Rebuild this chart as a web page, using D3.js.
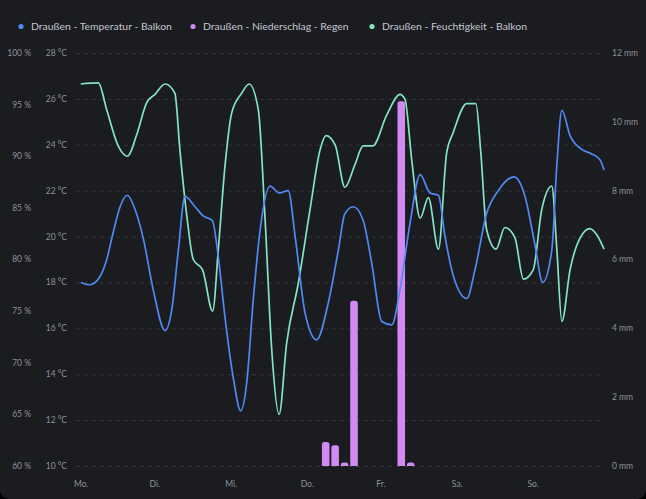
<!DOCTYPE html>
<html><head><meta charset="utf-8">
<script src="https://cdn.jsdelivr.net/npm/d3@7"></script>
<style>
html,body{margin:0;padding:0;background:#000;}
svg{display:block;font-family:Lato,"Noto Sans",sans-serif;}
</style></head>
<body>
<svg id="chart" width="646" height="499"></svg>
<script>
// ---- data ----
const dayLabels = ["Mo.", "Di.", "Mi.", "Do.", "Fr.", "Sa.", "So."];
const legendLabels = ["Draußen - Temperatur - Balkon", "Draußen - Niederschlag - Regen", "Draußen - Feuchtigkeit - Balkon"];
const tempTicks = [10,12,14,16,18,20,22,24,26,28];
const humTicks = [60,65,70,75,80,85,90,95,100];
const rainTicks = [0,2,4,6,8,10,12];

// hours since Monday 00:00
const tempHours = [1.5,4.4,7.4,9.75,11.85,14.0,16.3,18.7,21.4,24.5,28.3,30.4,32.5,34.6,37.8,40.4,43.3,45.2,47.3,50.0,52.3,54.2,56.3,58.4,61.6,64.6,67.4,69.6,72.7,76.4,80.1,83.3,85.4,88.1,91.2,93.9,97.1,100.3,102.9,106.1,109.3,112.4,115.1,117.2,119.8,124.1,126.7,130.4,134.1,139.1,142.6,145.8,148.2,151.1,152.7,154.3,156.9,160.6,163.8,166.4,167.7];
const tempValues = [18.0,17.9,18.2,19.0,20.2,21.3,21.8,21.2,19.9,17.7,15.9,16.8,19.4,21.75,21.3,20.9,20.7,19.1,16.5,13.8,12.4,13.6,17.25,20.2,22.2,21.9,22.0,20.0,16.7,15.5,17.1,19.4,21.0,21.3,20.7,18.85,16.3,16.15,17.7,20.6,22.7,21.9,21.8,20.0,18.3,17.3,18.55,21.0,22.0,22.6,21.75,19.6,18.0,19.4,23.1,25.5,24.4,23.8,23.6,23.35,22.9];

const humHours = [1.5,7.1,9.75,13.4,16.3,19.3,22.45,25.1,28.3,31.4,33.0,35.2,37.25,40.2,43.4,45.2,47.3,49.45,52.6,55.0,57.9,60.0,62.15,64.5,66.9,70.6,74.3,77.5,79.4,82.3,85.4,88.6,91.2,94.2,98.7,102.9,104.5,106.6,109.3,111.9,115.1,117.7,119.8,124.1,127.0,128.5,130.4,133.4,136.2,139.4,142.1,145.2,147.9,151.1,152.7,154.3,156.9,160.1,163.2,165.4,167.7];
const humValues = [97.0,97.1,94.5,91.0,90.0,92.1,95.2,96.0,97.0,96.1,90.6,84.2,80.0,79.0,75.0,81.0,89.0,94.2,96.1,97.0,94.5,84.2,71.3,65.0,71.9,77.7,84.8,90.6,92.0,91.1,87.0,89.2,91.0,91.0,94.0,96.0,95.5,89.7,84.0,86.0,81.0,90.3,92.3,95.1,95.1,90.6,82.9,81.0,83.1,82.1,78.1,79.0,84.8,87.1,81.0,74.0,79.0,82.1,83.0,82.4,81.0];

// 3-hour buckets, start hour since Monday 00:00
const rainHours = [78,81,84,87,102,105];
const rainValues = [0.7,0.6,0.1,4.8,10.6,0.1];

(function(){
// ---- layout ----
const W = 646, H = 499;
const pL = 76, pR = 605, pT = 53, pB = 466;
const colTemp = "#5089f2", colRain = "#d28af3", colHum = "#84e3c3";
const axisCol = "#8d919b";

const svg = d3.select("#chart");
svg.append("rect").attr("x",0).attr("y",-20).attr("width",W).attr("height",H+20).attr("rx",9).attr("fill","#1b1c20");

const x = d3.scaleLinear().domain([0,168]).range([pL,pR]);
const yT = d3.scaleLinear().domain([10,28]).range([pB,pT]);
const yH = d3.scaleLinear().domain([60,100]).range([pB,pT]);
const yR = d3.scaleLinear().domain([0,12]).range([pB,pT]);

// grid
svg.append("g").selectAll("line").data(tempTicks).join("line")
  .attr("x1",pL).attr("x2",pR-2)
  .attr("y1",d=>yT(d)+0.5).attr("y2",d=>yT(d)+0.5)
  .attr("stroke","#34363c").attr("stroke-width",1).attr("stroke-dasharray","4,4");

// axes labels
const fs = 8.5;
svg.append("g").selectAll("text").data(tempTicks).join("text")
  .attr("x",67).attr("y",d=>yT(d)).attr("dy","0.35em").attr("text-anchor","end")
  .attr("font-size",fs).attr("fill",axisCol).text(d=>d+" °C");
svg.append("g").selectAll("text").data(humTicks).join("text")
  .attr("x",31).attr("y",d=>yH(d)).attr("dy","0.35em").attr("text-anchor","end")
  .attr("font-size",fs).attr("fill",axisCol).text(d=>d+" %");
svg.append("g").selectAll("text").data(rainTicks).join("text")
  .attr("x",612).attr("y",d=>yR(d)).attr("dy","0.35em").attr("text-anchor","start")
  .attr("font-size",fs).attr("fill",axisCol).text(d=>d+" mm");
svg.append("g").selectAll("text").data(dayLabels).join("text")
  .attr("x",(d,i)=>x(i*24)-2).attr("y",487).attr("text-anchor","start")
  .attr("font-size",fs).attr("fill",axisCol).text(d=>d);

// bars
const bw = x(3)-x(0);
const barW = bw*0.8;
const rad = 2.5;
svg.append("g").selectAll("path").data(rainHours.map((h,i)=>({h,v:rainValues[i]}))).join("path")
  .attr("d",d=>{
    const x0 = x(d.h)+0.3, x1 = x0+barW, y0 = pB, y1 = yR(d.v);
    const r = Math.min(rad, (y0-y1)/1.2, barW/2);
    return `M${x0},${y0}V${y1+r}Q${x0},${y1} ${x0+r},${y1}H${x1-r}Q${x1},${y1} ${x1},${y1+r}V${y0}Z`;
  })
  .attr("fill",colRain);

// lines
const tempData = tempHours.map((h,i)=>[h,tempValues[i]]);
const humData = humHours.map((h,i)=>[h,humValues[i]]);
svg.append("path").datum(humData)
  .attr("d", d3.line().x(d=>x(d[0])).y(d=>yH(d[1])).curve(d3.curveMonotoneX))
  .attr("fill","none").attr("stroke",colHum).attr("stroke-width",1.7);
svg.append("path").datum(tempData)
  .attr("d", d3.line().x(d=>x(d[0])).y(d=>yT(d[1])).curve(d3.curveMonotoneX))
  .attr("fill","none").attr("stroke",colTemp).attr("stroke-width",1.7);

// legend
const legX = [21,193,372];
const legCol = [colTemp,colRain,colHum];
const lg = svg.append("g").selectAll("g").data(legendLabels).join("g");
lg.append("circle").attr("cx",(d,i)=>legX[i]).attr("cy",26.5).attr("r",2.6).attr("fill",(d,i)=>legCol[i]);
lg.append("text").attr("x",(d,i)=>legX[i]+10).attr("y",26.5).attr("dy","0.35em")
  .attr("font-size",10.4).attr("fill","#c3c7d0").text(d=>d);
})();
</script>
</body></html>
